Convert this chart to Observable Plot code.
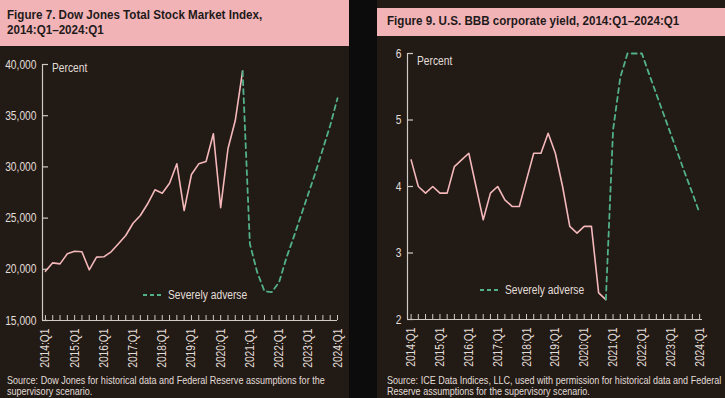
<!DOCTYPE html>
<html><head><meta charset="utf-8">
<script src="https://cdn.jsdelivr.net/npm/d3@7"></script>
<script src="https://cdn.jsdelivr.net/npm/@observablehq/plot@0.6"></script>
<style>
html,body{margin:0;padding:0;background:#0c0c0c;}
#root{position:relative;width:725px;height:398px;overflow:hidden;background:#0c0c0c;font-family:"Liberation Sans",Arial,sans-serif;}
.panel{position:absolute;background:#211a15;}
.title{position:absolute;background:#f2b3b7;color:#1f1a1a;font-weight:bold;font-size:13.5px;line-height:15px;box-sizing:border-box;white-space:nowrap;}
.title .nar{transform:scaleX(0.86);}
.src{position:absolute;color:#e3ddd8;font-size:10.5px;line-height:11px;white-space:nowrap;}
.src .nar{transform:scaleX(0.86);}
.legend{position:absolute;color:#e3ddd8;font-size:12.5px;line-height:14px;white-space:nowrap;display:flex;align-items:center;}
.legend svg{margin-right:6px;}
.pct{position:absolute;color:#e3ddd8;font-size:12.5px;line-height:14px;white-space:nowrap;}
.nar{display:inline-block;transform:scaleX(0.82);transform-origin:0 0;}
.chart{position:absolute;}
</style></head>
<body>
<div id="root">
  <div class="panel" style="left:0;top:0;width:349px;height:398px;"></div>
  <div class="panel" style="left:377px;top:0;width:348px;height:398px;"></div>
  <div class="title" style="left:0;top:0;width:349px;height:46px;padding:7px 0 0 7px;"><span class="nar">Figure 7. Dow Jones Total Stock Market Index,<br>2014:Q1–2024:Q1</span></div>
  <div class="title" style="left:377px;top:8px;width:348px;height:28px;padding:5px 0 0 10px;"><span class="nar">Figure 9. U.S. BBB corporate yield, 2014:Q1–2024:Q1</span></div>
  <div class="chart" id="c1" style="left:0;top:46px;"></div>
  <div class="chart" id="c2" style="left:377px;top:40px;"></div>
  <div class="pct" style="left:52px;top:61px;"><span class="nar">Percent</span></div>
  <div class="pct" style="left:417px;top:54px;"><span class="nar">Percent</span></div>
  <div class="legend" style="left:143px;top:288px;" id="lg1"></div>
  <div class="legend" style="left:480px;top:283px;" id="lg2"></div>
  <div class="src" style="left:7px;top:375px;"><span class="nar">Source: Dow Jones for historical data and Federal Reserve assumptions for the<br>supervisory scenario.</span></div>
  <div class="src" style="left:387px;top:375px;"><span class="nar">Source: ICE Data Indices, LLC, used with permission for historical data and Federal<br>Reserve assumptions for the supervisory scenario.</span></div>
</div>
<script>
// ---- data ----
const yearLabels = ["2014:Q1","2015:Q1","2016:Q1","2017:Q1","2018:Q1","2019:Q1","2020:Q1","2021:Q1","2022:Q1","2023:Q1","2024:Q1"];
const histStart = 0;      // 2014:Q1 quarter index
const scenarioStart = 27; // 2020:Q4 quarter index (last historical)
const seriesName = "Severely adverse";

// Dow Jones Total Stock Market Index, 2014:Q1–2020:Q4
const djHist = [19800, 20630, 20530, 21510, 21770, 21710, 19950, 21190, 21220, 21710, 22490, 23300,
                24500, 25250, 26400, 27760, 27430, 28410, 30300, 25740, 29260, 30300, 30530, 33230,
                26010, 31770, 34530, 39350];
// Severely adverse scenario, 2020:Q4–2024:Q1
const djSevere = [39350, 22490, 19720, 17860, 17770, 18740, 21120, 23140, 25250, 27370, 29490, 31770, 34040, 36710];
const djTicks = [15000, 20000, 25000, 30000, 35000, 40000];

// U.S. BBB corporate yield, 2014:Q1–2020:Q4
const bbbHist = [4.4, 4.0, 3.9, 4.0, 3.9, 3.9, 4.3, 4.4, 4.5, 4.0, 3.5, 3.9,
                 4.0, 3.8, 3.7, 3.7, 4.1, 4.5, 4.5, 4.8, 4.5, 4.0, 3.4, 3.3,
                 3.4, 3.4, 2.4, 2.3];
const bbbSevere = [2.3, 4.85, 5.64, 6.0, 6.0, 6.0, 5.69, 5.39, 5.09, 4.79, 4.49, 4.19, 3.9, 3.6];
const bbbTicks = [2, 3, 4, 5, 6];

// ---- style ----
const FONT = '"Liberation Sans",Arial,sans-serif';
const textColor = "#e3ddd8";
const axisColor = "#cfcac5";
const pink = "#f4b7ba";
const green = "#52b08b";

const quarterTicks = d3.range(0, 41);
const yearTickPos = yearLabels.map((_, i) => i * 4);

function makeChart({hist, severe, yDomain, yTicks, yFormat, width, height, mt, mb, ml, mr, xDomain}) {
  const histData = hist.map((v, i) => ({q: histStart + i, v}));
  const sevData = severe.map((v, i) => ({q: scenarioStart + i, v}));
  const H = height - mt - mb, W = width - ml - mr;
  const svg = Plot.plot({
    width, height, marginTop: mt, marginBottom: mb, marginLeft: ml, marginRight: mr,
    style: {background: "transparent", color: textColor, fontFamily: FONT, fontSize: "12.5px"},
    x: {domain: xDomain},
    y: {domain: yDomain},
    marks: [
      Plot.axisY(yTicks, {tickSize: 0, tickPadding: 6, tickFormat: yFormat, label: null, fontSize: 12.5}),
      Plot.axisX(yearTickPos, {tickSize: 0, tickPadding: 8, tickRotate: -90, tickFormat: d => yearLabels[d / 4], label: null, fontSize: 12.5}),
      Plot.tickY(yTicks, {y: d => d, insetRight: W - 6, stroke: axisColor, strokeWidth: 1.2}),
      Plot.tickX(quarterTicks, {x: d => d, insetTop: H - 5, stroke: axisColor, strokeWidth: 1}),
      Plot.ruleX([xDomain[0]], {y1: yDomain[0], y2: yDomain[1], stroke: axisColor, strokeWidth: 1.2}),
      Plot.ruleY([yDomain[0]], {x1: xDomain[0], x2: xDomain[1], stroke: axisColor, strokeWidth: 1.2}),
      Plot.line(histData, {x: "q", y: "v", stroke: pink, strokeWidth: 1.6}),
      Plot.line(sevData, {x: "q", y: "v", stroke: green, strokeWidth: 1.8, strokeDasharray: "5,4"})
    ]
  });
  // narrow (condensed) look: squeeze glyphs along the text direction around each anchor
  svg.querySelectorAll("text").forEach(t => {
    const tr = t.getAttribute("transform") || "";
    t.setAttribute("transform", tr + " scale(0.82,1)");
  });
  return svg;
}

document.getElementById("c1").append(makeChart({
  hist: djHist, severe: djSevere, yDomain: [15000, 40000], yTicks: djTicks, yFormat: d3.format(","),
  width: 349, height: 326, mt: 18, mb: 52, ml: 42, mr: 12, xDomain: [-0.4, 40]
}));
document.getElementById("c2").append(makeChart({
  hist: bbbHist, severe: bbbSevere, yDomain: [2, 6], yTicks: bbbTicks, yFormat: d => String(d),
  width: 348, height: 332, mt: 13, mb: 53, ml: 30, mr: 23, xDomain: [-0.5, 40.4]
}));

for (const id of ["lg1", "lg2"]) {
  document.getElementById(id).innerHTML =
    `<svg width="19" height="4"><line x1="0" y1="2" x2="19" y2="2" stroke="${green}" stroke-width="1.8" stroke-dasharray="4,3"/></svg><span class="nar">${seriesName}</span>`;
}
</script>
</body></html>
